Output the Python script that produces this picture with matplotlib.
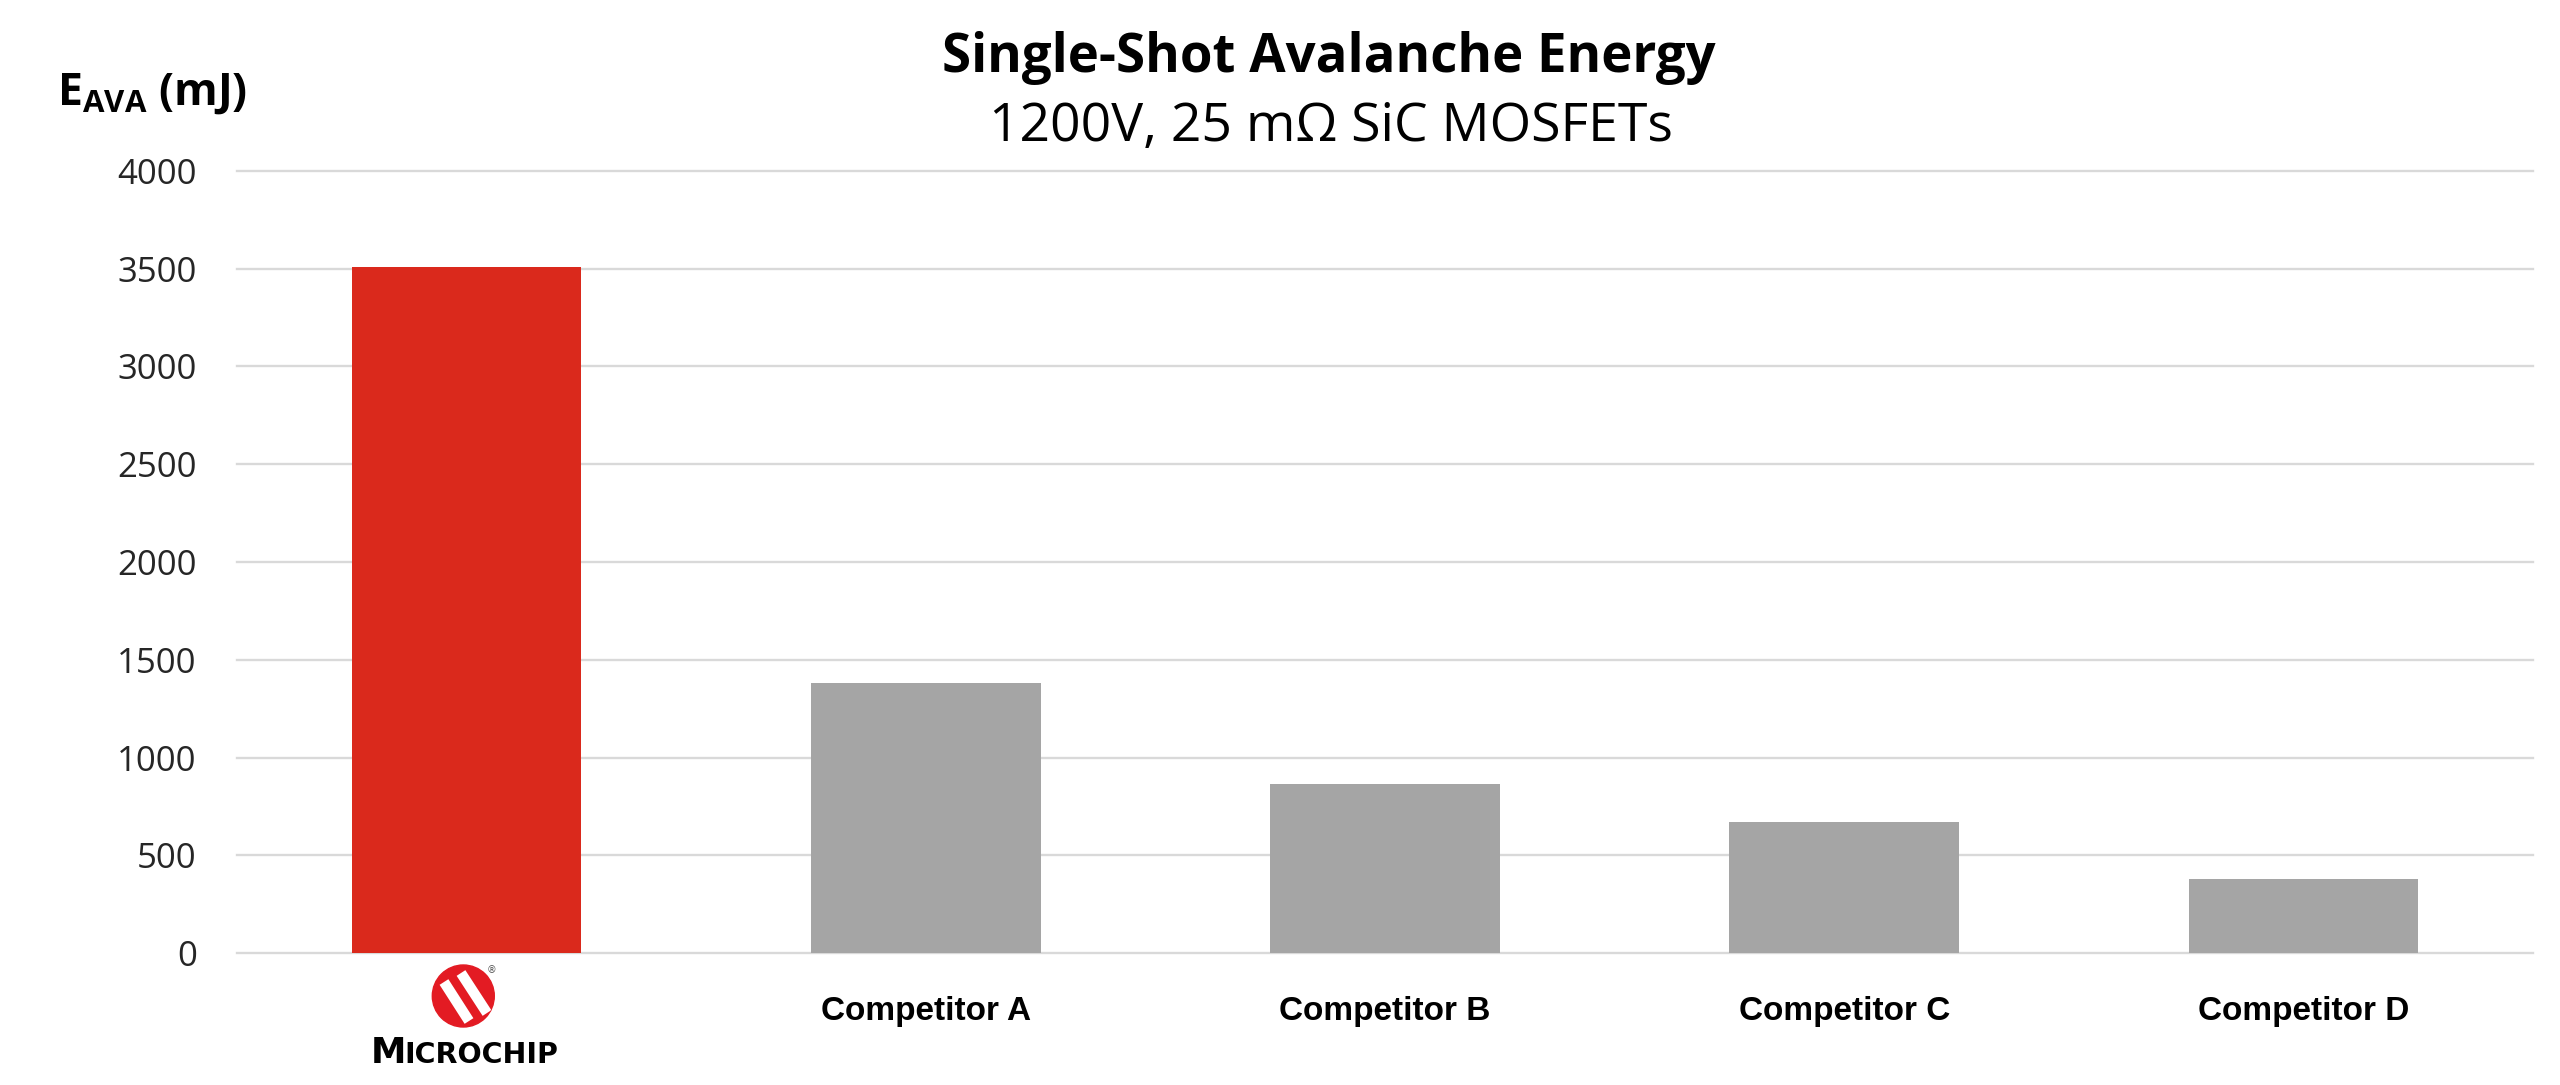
#! /usr/bin/env python3

import matplotlib
matplotlib.use("Agg")
import matplotlib.pyplot as plt
from matplotlib.patches import Circle

# data
categories = ["MICROCHIP", "Competitor A", "Competitor B", "Competitor C", "Competitor D"]
eava_mj = [3510, 1380, 865, 670, 378]
bar_colors = ["#DA291C", "#A5A5A5", "#A5A5A5", "#A5A5A5", "#A5A5A5"]
yticks = [0, 500, 1000, 1500, 2000, 2500, 3000, 3500, 4000]

W, H = 2560, 1085


def mkplot():
    # figure and plot
    fig = plt.figure(figsize=(W / 100, H / 100), dpi=100)
    ax = fig.add_axes([237 / W, 1 - 953.3 / H, (2533 - 237) / W, (953.3 - 170.7) / H])

    x = list(range(len(categories)))
    ax.bar(x, eava_mj, width=0.5, color=bar_colors, zorder=3)

    ax.set_xlim(-0.5, len(categories) - 0.5)
    ax.set_ylim(0, 4000)
    ax.set_yticks(yticks)
    ax.set_yticklabels([str(v) for v in yticks], fontfamily="Open Sans",
                       fontsize=25, color="#262626")
    ax.set_xticks(x)
    ax.set_xticklabels(categories, fontfamily="Liberation Sans",
                       fontweight="bold", fontsize=24, color="black")
    # first category is shown as the logo instead
    ax.get_xticklabels()[0].set_visible(False)
    ax.tick_params(axis="both", length=0)
    ax.tick_params(axis="y", pad=29)
    ax.tick_params(axis="x", pad=31)

    for s in ax.spines.values():
        s.set_visible(False)
    ax.yaxis.grid(True, color="#d9d9d9", linewidth=1.7, zorder=0)
    ax.set_axisbelow(True)
    for gl in ax.get_ygridlines():
        gl.set_clip_on(False)

    # titles
    fig.text(1329 / W, 1 - 72 / H, "Single-Shot Avalanche Energy",
             ha="center", va="baseline", fontfamily="Open Sans",
             fontweight="bold", fontsize=38)
    fig.text(1331 / W, 1 - 141 / H, "1200V, 25 mΩ SiC MOSFETs",
             ha="center", va="baseline", fontfamily="Open Sans", fontsize=38.5)

    # y label
    plt.rcParams["mathtext.fontset"] = "custom"
    plt.rcParams["mathtext.bf"] = "Open Sans:bold"
    plt.rcParams["mathtext.rm"] = "Open Sans:bold"
    fig.text(57 / W, 1 - 105 / H, r"$\mathbf{E_{AVA}}$ (mJ)",
             ha="left", va="baseline", fontfamily="Open Sans",
             fontweight="bold", fontsize=32)

    # logo under the first bar, axes in pixel units (y down)
    lx0, lx1, ly0, ly1 = 340, 600, 955, 1080
    lax = fig.add_axes([lx0 / W, 1 - ly1 / H, (lx1 - lx0) / W, (ly1 - ly0) / H])
    lax.set_xlim(lx0, lx1)
    lax.set_ylim(ly1, ly0)
    lax.axis("off")
    circ = Circle((463.3, 996), 31, color="#E31B23", zorder=1)
    lax.add_patch(circ)
    for (xa, ya), (xb, yb) in [((444, 982), (469, 1021)), ((461, 973), (487, 1013))]:
        ln, = lax.plot([xa, xb], [ya, yb], color="white", linewidth=7.5,
                       solid_capstyle="butt", zorder=2)
        ln.set_clip_path(circ)
    lax.text(492, 970, "®", fontsize=7, ha="center", va="center", color="#555555")
    lax.text(371, 1063, "M", fontfamily="DejaVu Sans", fontweight="bold",
             fontsize=25.7, ha="left", va="baseline", color="black")
    lax.text(404, 1063, "ICROCHIP", fontfamily="DejaVu Sans", fontweight="bold",
             fontsize=20.5, ha="left", va="baseline", color="black")

    fig.savefig("out.png", dpi=100)


if __name__ == "__main__":
    mkplot()
